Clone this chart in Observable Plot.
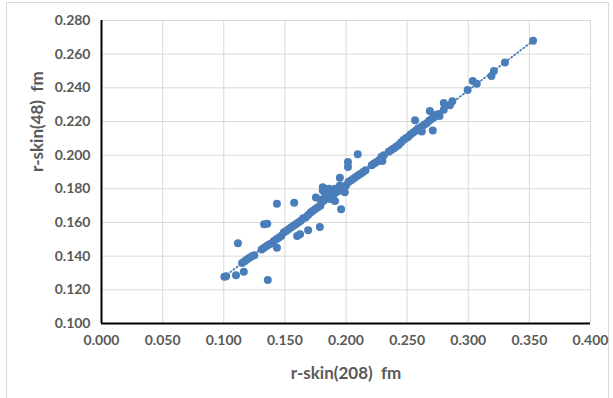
<!DOCTYPE html>
<html>
<head>
<meta charset="utf-8">
<script src="https://cdn.jsdelivr.net/npm/d3@7"></script>
<script src="https://cdn.jsdelivr.net/npm/@observablehq/plot@0.6"></script>
<style>
  html, body { margin: 0; padding: 0; background: #fff; }
  #wrap { position: relative; width: 613px; height: 398px; overflow: hidden; }
  #border { position: absolute; left: 6px; top: 2px; width: 603px; height: 400px; border: 1px solid #d9d9d9; box-sizing: border-box; }
  #chart { position: absolute; left: 0; top: 0; }
  #chart svg text { font-family: Lato, "Open Sans", sans-serif; }
</style>
</head>
<body>
<div id="wrap"><div id="border"></div><div id="chart"></div></div>
<script>
// r-skin(208) fm values (x)
const xValues = [
  0.353, 0.330, 0.321, 0.319, 0.3037, 0.307, 0.2995, 0.287, 0.285, 0.280, 0.280,
  0.2765, 0.2686, 0.272, 0.2565, 0.271, 0.262, 0.2096, 0.2016, 0.2016, 0.2297,
  0.195, 0.181, 0.1754, 0.191, 0.196, 0.1435, 0.1576, 0.1356, 0.133, 0.1786,
  0.169, 0.160, 0.1624, 0.1116, 0.1435, 0.1164, 0.110, 0.1005, 0.102, 0.136,
  0.115, 0.117, 0.119, 0.121, 0.123, 0.125,
  0.131, 0.133, 0.135, 0.137, 0.139, 0.141, 0.143, 0.145, 0.147,
  0.149, 0.151, 0.153, 0.155, 0.157, 0.159, 0.161, 0.163, 0.165, 0.167, 0.169, 0.171, 0.173, 0.175, 0.177, 0.179,
  0.180, 0.182, 0.183, 0.185, 0.186, 0.188, 0.184, 0.181, 0.190, 0.192, 0.194, 0.196, 0.198, 0.199, 0.187, 0.189, 0.1795, 0.193,
  0.183, 0.186, 0.191, 0.195, 0.197, 0.188,
  0.200, 0.202, 0.204, 0.206, 0.208, 0.210, 0.212, 0.214, 0.216,
  0.221, 0.223, 0.225, 0.227, 0.229, 0.231,
  0.235, 0.237, 0.239, 0.241, 0.243, 0.245, 0.247, 0.249, 0.251, 0.253, 0.255, 0.257, 0.259,
  0.262, 0.264, 0.266, 0.268, 0.270, 0.272, 0.274, 0.276
];
// r-skin(48) fm values (y)
const yValues = [
  0.268, 0.255, 0.250, 0.247, 0.244, 0.2425, 0.2387, 0.232, 0.2297, 0.231, 0.227,
  0.2232, 0.2262, 0.223, 0.2207, 0.2147, 0.214, 0.2005, 0.196, 0.193, 0.1965,
  0.1866, 0.181, 0.1748, 0.1728, 0.1678, 0.1712, 0.1718, 0.1593, 0.159, 0.1574,
  0.1554, 0.152, 0.153, 0.1477, 0.145, 0.1307, 0.1287, 0.1278, 0.128, 0.1259,
  0.136, 0.137, 0.138, 0.139, 0.140, 0.1405,
  0.144, 0.145, 0.146, 0.147, 0.1475, 0.149, 0.150, 0.151, 0.152,
  0.154, 0.155, 0.156, 0.157, 0.158, 0.159, 0.160, 0.161, 0.1625, 0.163, 0.1645, 0.166, 0.167, 0.168, 0.169, 0.170,
  0.172, 0.173, 0.175, 0.176, 0.178, 0.179, 0.178, 0.179, 0.177, 0.178, 0.179, 0.180, 0.181, 0.178, 0.174, 0.176, 0.1735, 0.1785,
  0.177, 0.180, 0.180, 0.182, 0.179, 0.1775,
  0.182, 0.184, 0.185, 0.186, 0.187, 0.188, 0.189, 0.190, 0.191,
  0.194, 0.195, 0.196, 0.197, 0.199, 0.200,
  0.202, 0.203, 0.204, 0.205, 0.206, 0.2075, 0.209, 0.210, 0.211, 0.2125, 0.2135, 0.2145, 0.216,
  0.217, 0.218, 0.219, 0.2205, 0.2215, 0.2225, 0.224, 0.2245
];
const xTicks = [0, 0.05, 0.1, 0.15, 0.2, 0.25, 0.3, 0.35, 0.4];
const yTicks = [0.1, 0.12, 0.14, 0.16, 0.18, 0.2, 0.22, 0.24, 0.26, 0.28];
const xLabel = "r-skin(208)  fm";
const yLabel = "r-skin(48)  fm";

const data = xValues.map((x, i) => ({x, y: yValues[i]}));
const blue = "#4a7ebb";
const grey = "#595959";

const plot = Plot.plot({
  width: 613,
  height: 398,
  marginLeft: 101,
  marginRight: 23,
  marginTop: 20,
  marginBottom: 75,
  style: {fontFamily: "Lato, 'Open Sans', sans-serif", background: "transparent", overflow: "visible"},
  x: {domain: [0, 0.4], ticks: xTicks, tickFormat: d3.format(".3f"), label: null},
  y: {domain: [0.1, 0.28], ticks: yTicks, tickFormat: d3.format(".3f"), label: null},
  marks: [
    Plot.ruleX(xTicks.filter(d => d > 0), {stroke: "#d9d9d9", strokeWidth: 1}),
    Plot.ruleY(yTicks.filter(d => d > 0.1), {stroke: "#d9d9d9", strokeWidth: 1}),
    Plot.axisX({ticks: xTicks, tickFormat: d3.format(".3f"), tickSize: 0, tickPadding: 12, fontSize: 14, fontWeight: "bold", fill: grey, label: null}),
    Plot.axisY({ticks: yTicks, tickFormat: d3.format(".3f"), tickSize: 0, tickPadding: 11, fontSize: 14, fontWeight: "bold", fill: grey, label: null}),
    Plot.linearRegressionY(data, {x: "x", y: "y", ci: 0, stroke: blue, strokeWidth: 1.8, strokeDasharray: "1.2,2.6", strokeLinecap: "round"}),
    Plot.dot(data, {x: "x", y: "y", r: 4, fill: blue, stroke: "none"}),
    Plot.ruleX([0], {stroke: "#000", strokeWidth: 2}),
    Plot.ruleY([0.1], {stroke: "#000", strokeWidth: 2, x1: 0, x2: 0.4}),
    Plot.text([xLabel], {frameAnchor: "bottom", dy: 55, fontSize: 17, fontWeight: "bold", fill: grey}),
    Plot.text([yLabel], {frameAnchor: "left", dx: -64, rotate: -90, fontSize: 17, fontWeight: "bold", fill: grey})
  ]
});
document.getElementById("chart").appendChild(plot);
</script>
</body>
</html>
